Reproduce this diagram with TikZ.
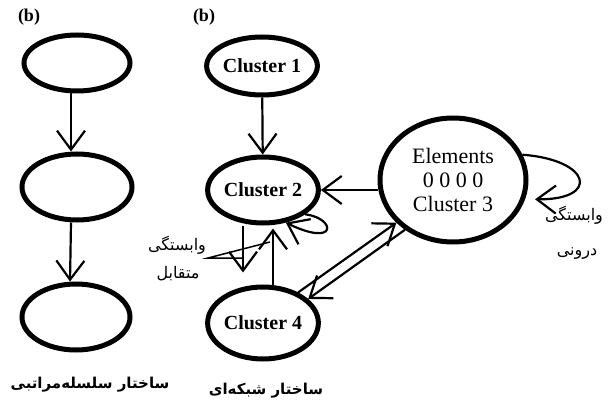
\documentclass[tikz,border=0pt]{standalone}
\usepackage{fontspec}
\setmainfont{Liberation Serif}
\newfontfamily\arabicfont[Script=Arabic]{DejaVu Sans}
\TeXXeTstate=1
\usetikzlibrary{shapes.geometric,arrows.meta,calc}
\tikzset{
  clus/.style={ellipse, draw, line width=5pt, inner sep=0pt, font=\fontsize{20}{22}\selectfont\bfseries},
  arr/.style={line width=2.2pt, -{Straight Barb[length=19pt,width=28pt,line width=2.2pt]}},
  thin/.style={line width=1.5pt},
  fa/.style={font=\arabicfont\fontsize{16}{18}\selectfont},
  fab/.style={font=\arabicfont\bfseries\fontsize{15}{17}\selectfont},
  lab/.style={font=\fontsize{18}{20}\selectfont\bfseries}
}
\begin{document}
\begin{tikzpicture}[x=1pt,y=-1pt]
\useasboundingbox (0,0) rectangle (608,409);
% left panel
\node[lab] (bl) at (29,17) {(b)};
\node[clus, minimum width=106pt, minimum height=56pt] (e1) at (77,63) {};
\node[clus, minimum width=110pt, minimum height=66pt] (e2) at (77,187) {};
\node[clus, minimum width=108pt, minimum height=66pt] (e3) at (76,317) {};
\draw[arr] ([xshift=-6pt]e1.south) -- ([xshift=-6pt]e2.north);
\draw[arr] ([xshift=-6pt]e2.south) -- ([xshift=-6pt]e3.north);
\node[fa] (t1) at (177,245) {\beginR وابستگی\endR};
\node[fa] (t2) at (178,274) {\beginR متقابل\endR};
\node[fab] (t3) at (90,385) {\beginR ساختار سلسله‌مراتبی\endR};
% right panel
\node[lab] (br) at (204,17) {(b)};
\node[clus, minimum width=108pt, minimum height=58pt] (c1) at (262,66) {Cluster 1};
\node[clus, minimum width=110pt, minimum height=66pt] (c2) at (263,190) {Cluster 2};
\node[clus, minimum width=110pt, minimum height=72pt] (c4) at (263,323) {Cluster 4};
\node[ellipse, draw, line width=5pt, inner sep=0pt, minimum width=146pt, minimum height=124pt,
      align=center, font=\fontsize{22}{24}\selectfont] (c3) at (453,180) {Elements\\0 0 0 0\\Cluster 3};
\draw[arr] (c1) -- (c2);
\draw[arr] (c3.west |- c2.east) -- (c2.east);
\draw[arr] (c2.-30) .. controls (336,218) and (338,248) .. (c2.-55);
\draw[arr, shorten >=12pt] ([xshift=-20pt]c2.south) -- ([xshift=-20pt]c4.north);
\draw[arr, shorten >=3pt] ([xshift=10pt]c4.north) -- ([xshift=10pt]c2.south);
\coordinate (cp) at (208,258);
\coordinate (cd) at (243,258);
\coordinate (cu) at (270,242);
\draw[thin] (cd) -- (cp) -- (cu);
\draw[arr] (c4.41) -- (c3.217);
\draw[arr] (c3.226) -- (c4.28);
\draw[arr] (c3.20) .. controls (592,160) and (600,200) .. ([xshift=10pt]c3.-15);
\node[fa] (t4) at (574,215) {\beginR وابستگی\endR};
\node[fa] (t5) at (577,254) {\beginR درونی\endR};
\node[fab] (t6) at (266,391) {\beginR ساختار شبکه‌ای\endR};
\end{tikzpicture}
\end{document}
